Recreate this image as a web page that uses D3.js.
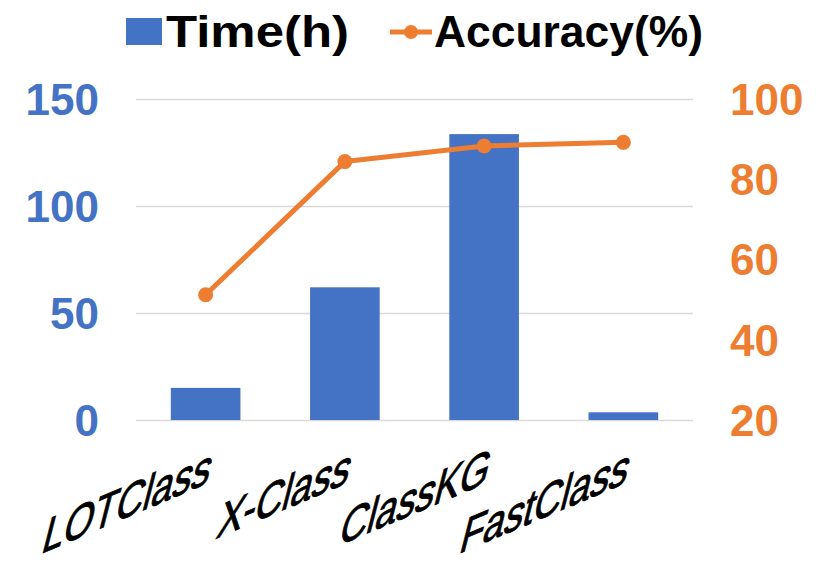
<!DOCTYPE html>
<html>
<head>
<meta charset="utf-8">
<script src="https://cdn.jsdelivr.net/npm/d3@7"></script>
<style>
  html, body { margin: 0; padding: 0; background: #fff; }
  svg { display: block; font-family: "Liberation Sans", Arial, sans-serif; }
</style>
</head>
<body>
<svg id="chart" width="831" height="576"></svg>
<script>
// ---- data ----
const categories = ["LOTClass", "X-Class", "ClassKG", "FastClass"];
const timeHours = [15, 62, 133.6, 3.6];
const accuracy = [51.2, 84.4, 88.3, 89.2];
const leftTicks = [0, 50, 100, 150];
const rightTicks = [20, 40, 60, 80, 100];
const seriesNames = ["Time(h)", "Accuracy(%)"];

const blue = "#4472C4", orange = "#ED7D31", grid = "#D9D9D9";

const svg = d3.select("#chart");
const x0 = 136, x1 = 693, yTop = 99, yBot = 420;

const x = d3.scaleBand().domain(categories).range([x0, x1]).paddingInner(0.5).paddingOuter(0.25);
const yL = d3.scaleLinear().domain([0, 150]).range([yBot, yTop]);
const yR = d3.scaleLinear().domain([20, 100]).range([yBot, yTop]);

// gridlines
const gGrid = svg.append("g").attr("transform", `translate(${x0},0)`)
  .call(d3.axisLeft(yL).tickValues(leftTicks).tickSize(-(x1 - x0)).tickFormat(""));
gGrid.select(".domain").remove();
gGrid.selectAll("line").attr("stroke", grid).attr("stroke-width", 1.5);

// left axis labels
const gL = svg.append("g").attr("transform", `translate(99,0)`)
  .call(d3.axisLeft(yL).tickValues(leftTicks).tickSize(0).tickPadding(0));
gL.select(".domain").remove();
gL.selectAll("text").attr("fill", blue).attr("font-size", 44).attr("font-weight", "bold")
  .attr("font-family", "'Liberation Sans', Arial, sans-serif").attr("dy", "0.35em");

// right axis labels
const gR = svg.append("g").attr("transform", `translate(730,0)`)
  .call(d3.axisRight(yR).tickValues(rightTicks).tickSize(0).tickPadding(0));
gR.select(".domain").remove();
gR.selectAll("text").attr("fill", orange).attr("font-size", 44).attr("font-weight", "bold")
  .attr("font-family", "'Liberation Sans', Arial, sans-serif").attr("dy", "0.35em");

// bars
svg.append("g").selectAll("rect").data(categories).join("rect")
  .attr("x", d => x(d))
  .attr("width", x.bandwidth())
  .attr("y", (d, i) => yL(timeHours[i]))
  .attr("height", (d, i) => yBot - yL(timeHours[i]))
  .attr("fill", blue);

// line
const cx = d => x(d) + x.bandwidth() / 2;
svg.append("path")
  .datum(categories)
  .attr("fill", "none").attr("stroke", orange).attr("stroke-width", 5)
  .attr("stroke-linejoin", "round")
  .attr("d", d3.line().x(d => cx(d)).y((d, i) => yR(accuracy[i])));
svg.append("g").selectAll("circle").data(categories).join("circle")
  .attr("cx", d => cx(d)).attr("cy", (d, i) => yR(accuracy[i])).attr("r", 7.5)
  .attr("fill", orange);

// category labels (skewed)
svg.append("g").selectAll("text").data(categories).join("text")
  .attr("transform", d => `translate(${cx(d) + 2},483) skewY(-23) skewX(-16) scale(0.82,1)`)
  .attr("text-anchor", "end")
  .attr("font-size", 46).attr("font-weight", "normal").attr("fill", "#000")
  .attr("stroke", "#000").attr("stroke-width", 0.9)
  .text(d => d);

// legend
const lg = svg.append("g");
lg.append("rect").attr("x", 126).attr("y", 18).attr("width", 36).attr("height", 27).attr("fill", blue);
lg.append("text").attr("x", 166).attr("y", 47).attr("font-size", 44).attr("font-weight", "bold")
  .attr("textLength", 183).attr("lengthAdjust", "spacingAndGlyphs").attr("fill", "#000").text(seriesNames[0]);
lg.append("line").attr("x1", 390).attr("x2", 432).attr("y1", 32).attr("y2", 32)
  .attr("stroke", orange).attr("stroke-width", 5);
lg.append("circle").attr("cx", 411).attr("cy", 32).attr("r", 7).attr("fill", orange);
lg.append("text").attr("x", 434).attr("y", 47).attr("font-size", 44).attr("font-weight", "bold")
  .attr("textLength", 269).attr("lengthAdjust", "spacingAndGlyphs").attr("fill", "#000").text(seriesNames[1]);
</script>
</body>
</html>
